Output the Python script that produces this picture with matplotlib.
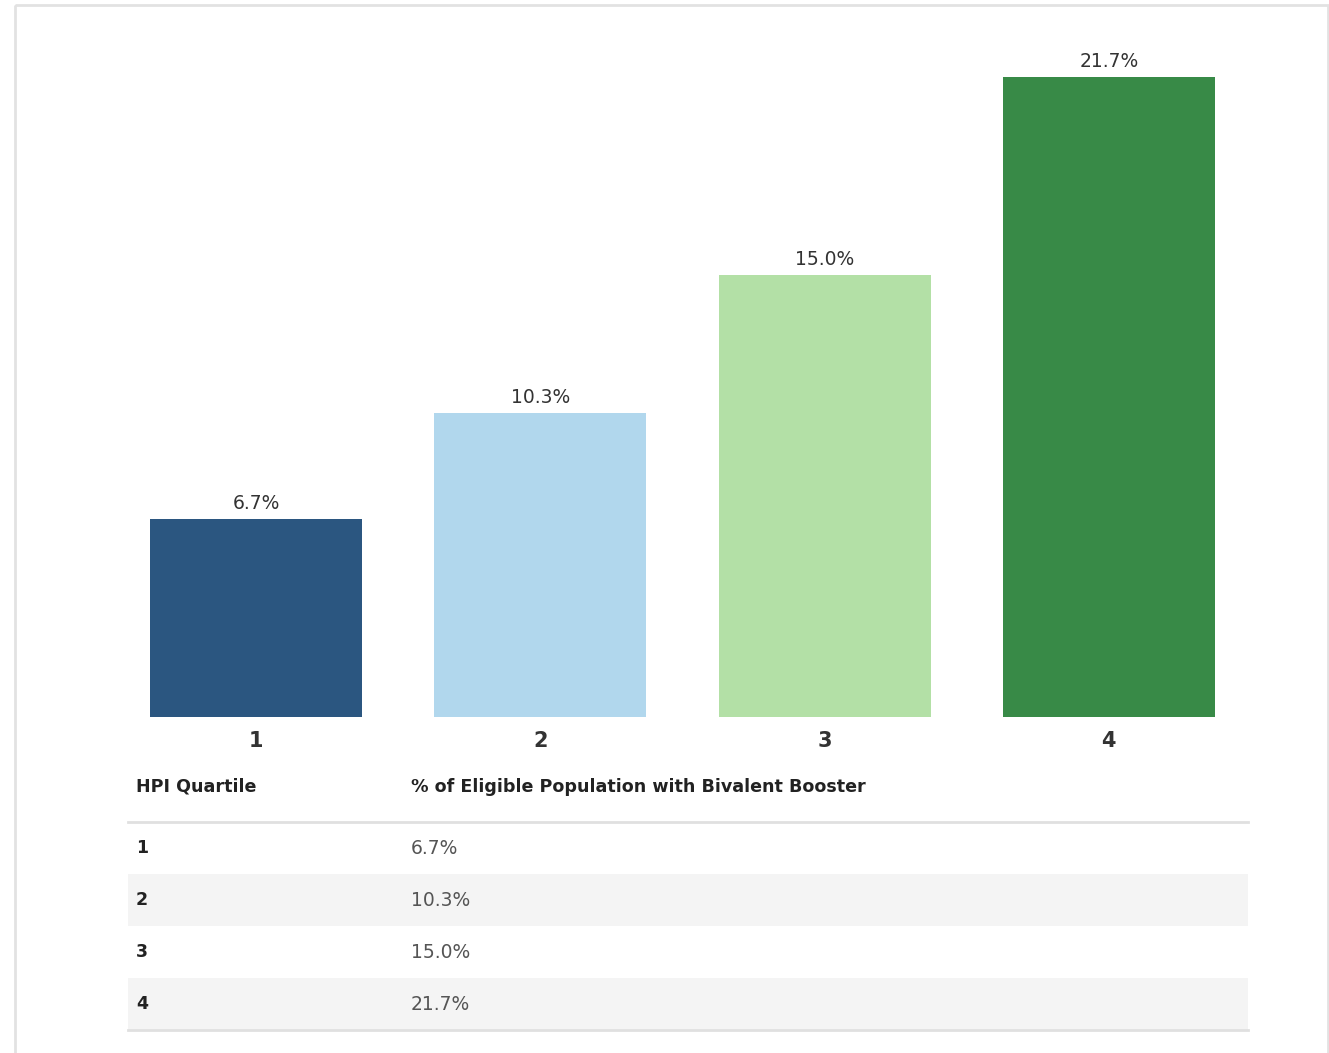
import matplotlib
matplotlib.use('Agg')
import matplotlib.pyplot as plt
from matplotlib.patches import Rectangle

plt.rcParams['font.family'] = ['DejaVu Sans']

# ── Data ──────────────────────────────────────────────────────────────────────
quartiles = ['1', '2', '3', '4']
pct = [6.7, 10.3, 15.0, 21.7]
bar_colors = ['#2b5680', '#b1d7ed', '#b3e0a6', '#388a47']
col_headers = ['HPI Quartile', '% of Eligible Population with Bivalent Booster']

W, H = 1329, 1053
fig = plt.figure(figsize=(W / 100, H / 100), dpi=100)

# ── Bar chart ─────────────────────────────────────────────────────────────────
ax = fig.add_axes([114 / W, (H - 717) / H, 1137 / W, 677 / H])
x = range(len(quartiles))
bars = ax.bar(x, pct, width=0.746, color=bar_colors)
ax.set_xlim(-0.5, 3.5)
ax.set_ylim(0, 677 / 29.5)
for b, v in zip(bars, pct):
    ax.text(b.get_x() + b.get_width() / 2, v + 0.2, f'{v:.1f}%',
            ha='center', va='bottom', fontsize=13.5, color='#333333')
ax.set_xticks(list(x))
ax.set_xticklabels(quartiles, fontsize=15, fontweight='bold', color='#333333')
ax.tick_params(axis='x', length=0, pad=10)
ax.set_yticks([])
for s in ax.spines.values():
    s.set_visible(False)

# ── Table + frame (pixel coords overlay) ─────────────────────────────────────
ov = fig.add_axes([0, 0, 1, 1], zorder=-1)
ov.set_xlim(0, W)
ov.set_ylim(H, 0)
ov.axis('off')

ov.add_patch(Rectangle((15, 5), 1313, 1100, fill=False,
                       edgecolor='#e2e2e2', linewidth=2))

ov.text(136, 787, col_headers[0], fontsize=12.6, fontweight='bold',
        color='#222222', va='center', ha='left')
ov.text(411, 787, col_headers[1], fontsize=12.6, fontweight='bold',
        color='#222222', va='center', ha='left')

row_top, row_h = 822, 52
for i, (q, v) in enumerate(zip(quartiles, pct)):
    y0 = row_top + i * row_h
    if i % 2 == 1:
        ov.add_patch(Rectangle((128, y0), 1120, row_h, color='#f4f4f4', lw=0))
    yc = y0 + row_h / 2
    ov.text(136, yc, q, fontsize=12.5, fontweight='bold', color='#222222',
            va='center', ha='left')
    ov.text(411, yc, f'{v:.1f}%', fontsize=13.5, color='#555555',
            va='center', ha='left')

ov.plot([128, 1248], [row_top, row_top], color='#e0e0e0', lw=2)
ov.plot([128, 1248], [row_top + 4 * row_h] * 2, color='#e0e0e0', lw=2)

fig.savefig('out.png', dpi=100, facecolor='white')
